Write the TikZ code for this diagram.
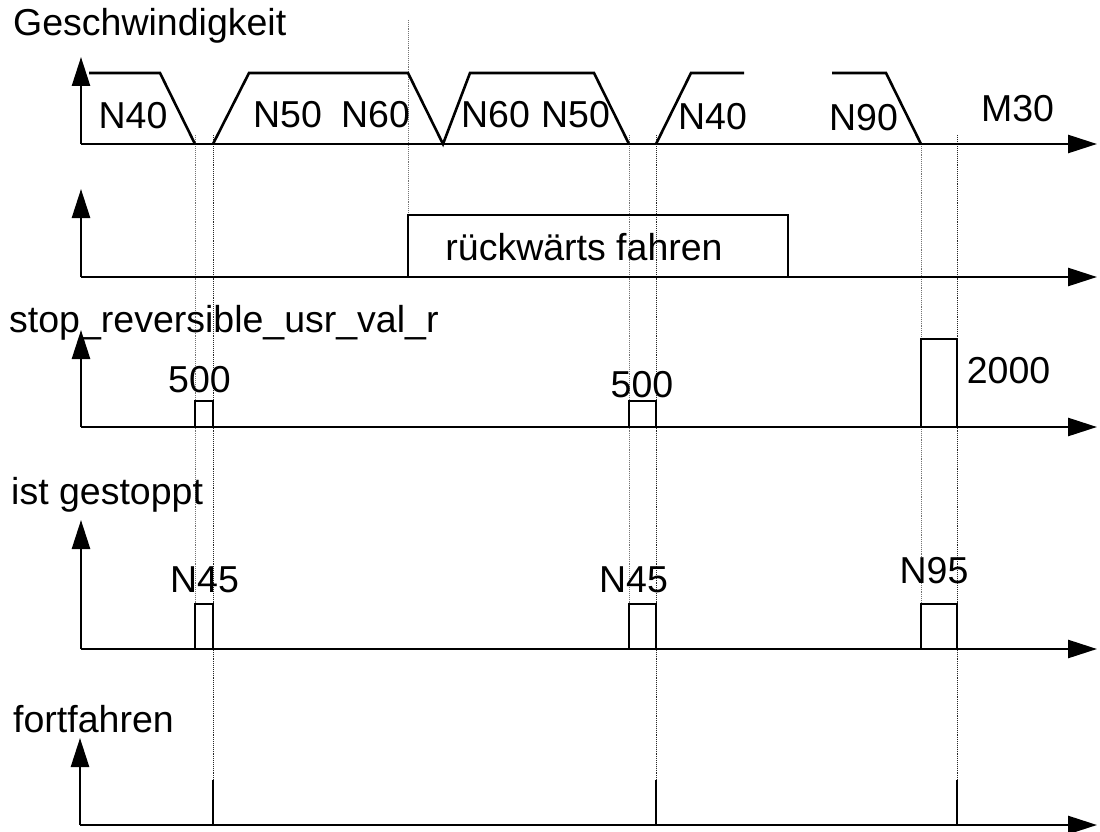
\documentclass[tikz,border=0pt]{standalone}
\usepackage{fontspec}
\setmainfont{Liberation Sans}
\usetikzlibrary{arrows.meta}
\begin{document}
\begin{tikzpicture}[x=1pt,y=-1pt,
  sig/.style={line width=2.6pt, line join=miter, line cap=butt},
  axis/.style={line width=2.6pt, -{Triangle[length=29pt,width=18pt]}},
  guideA/.style={line width=0.9pt, densely dotted, black!55},
  guideB/.style={line width=0.9pt, densely dotted, black!85},
  lbl/.style={font=\fontsize{37.5}{44}\selectfont, inner sep=0pt, anchor=base},
  lblw/.style={lbl, anchor=base west}]
\useasboundingbox (0,0) rectangle (1100,832);

% guide lines
\draw[guideA] (195,135) -- (195,604);
\draw[guideB] (213,135) -- (213,780);
\draw[guideA] (408,20) -- (408,215);
\draw[guideA] (629,135) -- (629,604);
\draw[guideB] (656,135) -- (656,780);
\draw[guideA] (921,144) -- (921,604);
\draw[guideB] (957,135) -- (957,780);

% row 1: Geschwindigkeit
\coordinate (o1) at (81,144);
\draw[axis] (o1) -- (81,57);
\draw[axis] (o1) -- (1097,144);
\draw[sig] (89,73) -- (160,73) -- (195,144);
\draw[sig] (213,144) -- (249,73) -- (408,73) -- (443,144) -- (470,73) -- (594,73) -- (629,144);
\draw[sig] (656,144) -- (691,73) -- (744,73);
\draw[sig] (832,73) -- (886,73) -- (921,144);
\node[lblw] (t1) at (13,36) {Geschwindigkeit};
\node[lbl] (n40a) at (133,129) {N40};
\node[lbl] (n50a) at (287.5,128) {N50};
\node[lbl] (n60a) at (375.5,128) {N60};
\node[lbl] (n60b) at (495.5,128) {N60};
\node[lbl] (n50b) at (575.5,128) {N50};
\node[lbl] (n40b) at (712.5,130) {N40};
\node[lbl] (n90) at (863.5,131) {N90};
\node[lbl] (m30) at (1017.5,122) {M30};

% row 2: rückwärts fahren
\coordinate (o2) at (81,277);
\draw[axis] (o2) -- (81,189);
\draw[axis] (o2) -- (1097,277);
\draw[sig] (408,277) -- (408,215) -- (788,215) -- (788,277);
\node[lbl] (rf) at (584,260) {rückwärts fahren};

% row 3: stop_reversible_usr_val_r
\coordinate (o3) at (81,427);
\draw[axis] (o3) -- (81,330);
\draw[axis] (o3) -- (1097,427);
\draw[sig] (195,427) -- (195,401) -- (213,401) -- (213,427);
\draw[sig] (629,427) -- (629,401) -- (656,401) -- (656,427);
\draw[sig] (921,427) -- (921,339) -- (957,339) -- (957,427);
\node[lblw] (t3) at (9,332) {stop\_reversible\_usr\_val\_r};
\node[lbl] (v1) at (199.5,392) {500};
\node[lbl] (v2) at (642,397) {500};
\node[lbl] (v3) at (1008.5,383) {2000};

% row 4: ist gestoppt
\coordinate (o4) at (81,649);
\draw[axis] (o4) -- (81,520);
\draw[axis] (o4) -- (1097,649);
\draw[sig] (195,649) -- (195,604) -- (213,604) -- (213,649);
\draw[sig] (629,649) -- (629,604) -- (656,604) -- (656,649);
\draw[sig] (921,649) -- (921,604) -- (957,604) -- (957,649);
\node[lblw] (t4) at (11,504) {ist gestoppt};
\node[lbl] (g1) at (204.5,592) {N45};
\node[lbl] (g2) at (633.5,592) {N45};
\node[lbl] (g3) at (934,583) {N95};

% row 5: fortfahren
\coordinate (o5) at (80,825);
\draw[axis] (o5) -- (80,738);
\draw[axis] (o5) -- (1097,825);
\draw[sig] (213,825) -- (213,780);
\draw[sig] (656,825) -- (656,780);
\draw[sig] (957,825) -- (957,780);
\node[lblw] (t5) at (13,732) {fortfahren};
\end{tikzpicture}
\end{document}
